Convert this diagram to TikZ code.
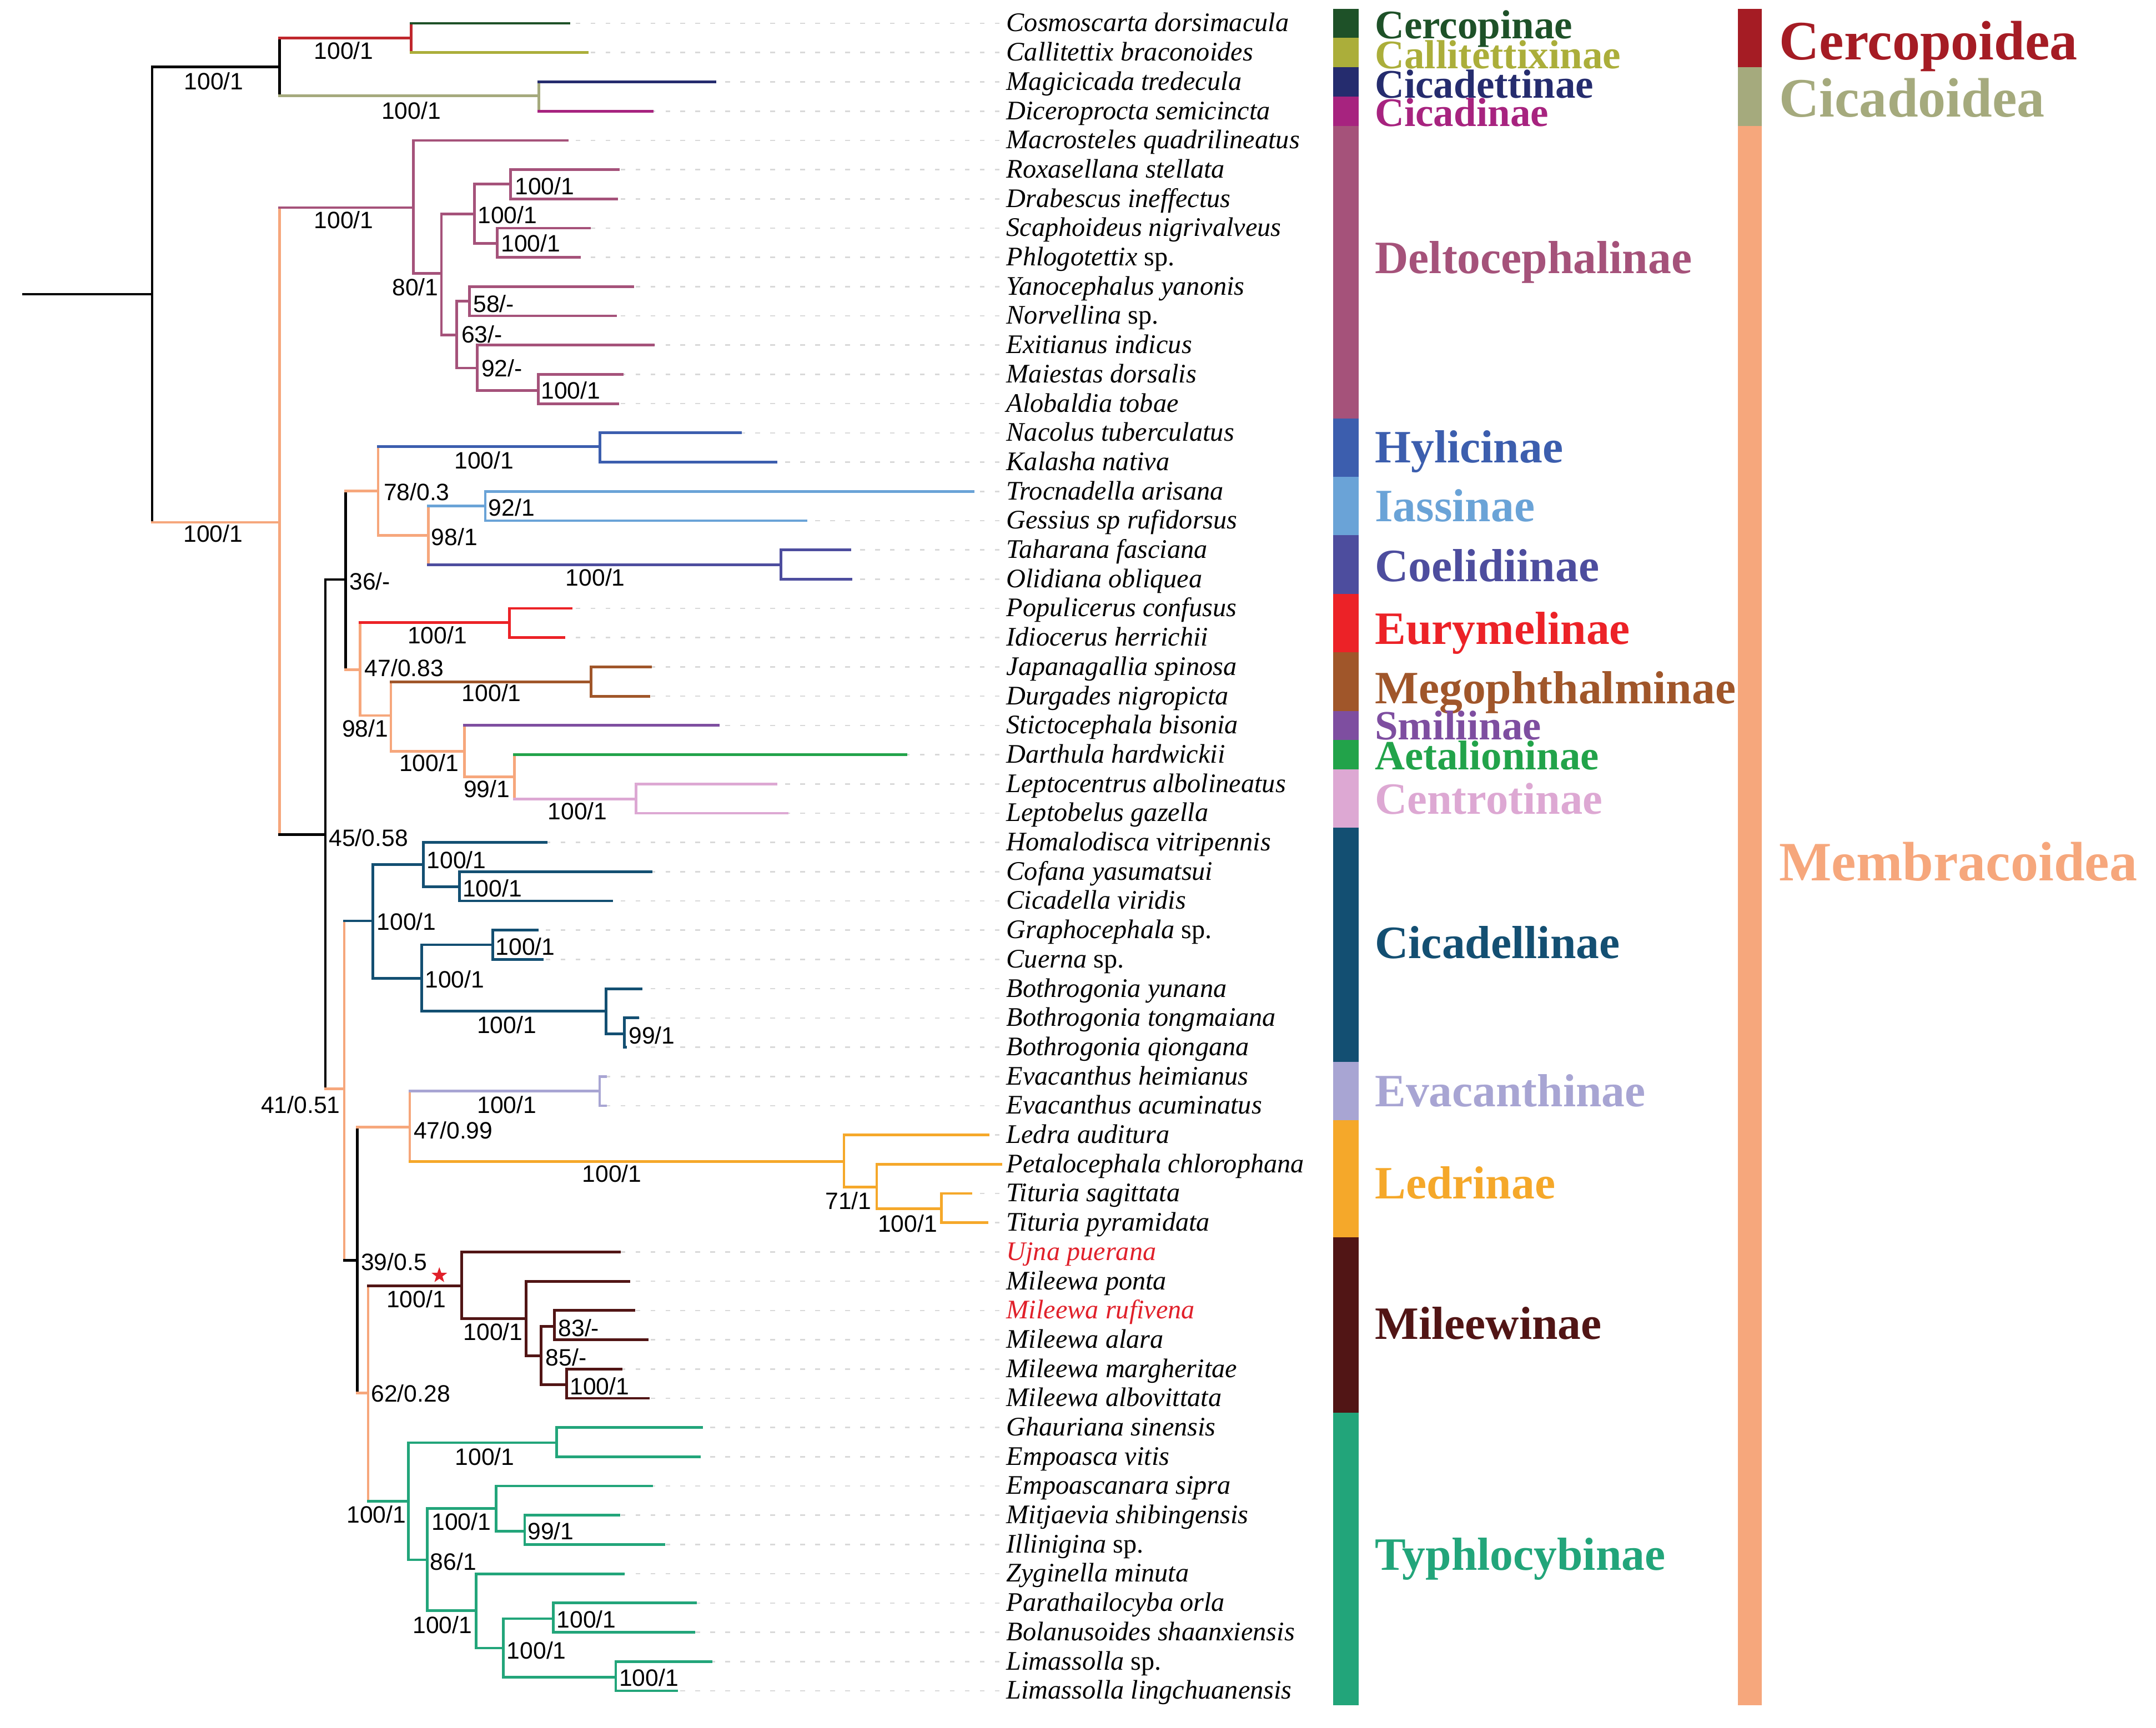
\documentclass[tikz,border=0pt]{standalone}
\usepackage{fontspec}
\setmainfont{Liberation Serif}
\newfontfamily\bsfont{Liberation Sans}
\usepackage{tikz}
\usetikzlibrary{shapes.geometric}

\definecolor{salmon}{HTML}{F6A77C}
\definecolor{cercopoidea}{HTML}{A51C24}
\definecolor{cercbranch}{HTML}{C0272D}
\definecolor{cicadoidea}{HTML}{A5AA7D}
\definecolor{cercopinae}{HTML}{1E5128}
\definecolor{callitettixinae}{HTML}{ABAE3A}
\definecolor{cicadettinae}{HTML}{252C6E}
\definecolor{cicadinae}{HTML}{A7237F}
\definecolor{deltocephalinae}{HTML}{A5527A}
\definecolor{hylicinae}{HTML}{3C5EAE}
\definecolor{iassinae}{HTML}{6AA3D7}
\definecolor{coelidiinae}{HTML}{4D4D9E}
\definecolor{eurymelinae}{HTML}{EC2227}
\definecolor{megophthalminae}{HTML}{A0562A}
\definecolor{smiliinae}{HTML}{7E4EA0}
\definecolor{aetalioninae}{HTML}{22A34A}
\definecolor{centrotinae}{HTML}{DDA8D3}
\definecolor{cicadellinae}{HTML}{134F72}
\definecolor{evacanthinae}{HTML}{A8A5D3}
\definecolor{ledrinae}{HTML}{F5A82A}
\definecolor{mileewinae}{HTML}{511515}
\definecolor{typhlocybinae}{HTML}{22A57A}
\definecolor{newsp}{HTML}{E0202A}

\begin{document}
\begin{tikzpicture}[
        x = 0.2mm, % one unit of the layout grid
        y = -0.2mm, % rows run downwards
        line width = 1.1pt, % branch line style
        line cap = rect
    ]

    \tikzstyle{species}=[
        anchor = base west,
        inner sep = 0pt,
        font = \itshape\fontsize{11.1}{13}\selectfont
    ]
    \tikzstyle{leader}=[
        draw = black!15,
        line width = 0.6pt,
        line cap = butt,
        dash pattern = on 1.9pt off 4.3pt,
        shorten <=0.8mm
    ]
    \tikzstyle{support}=[
        inner sep = 0pt,
        font = \bsfont\fontsize{9.8}{10}\selectfont
    ]
    \tikzstyle{grouplabel}=[
        anchor = base west,
        inner sep = 0pt
    ]
    \tikzstyle{superfamily}=[
        anchor = base west,
        inner sep = 0pt,
        font = \bfseries\fontsize{23}{23}\selectfont
    ]

    \useasboundingbox (0,0) rectangle (1568,1257);

    % tips and species names
    \foreach \i/\tx/\sp in {
        0/413.6/Cosmoscarta dorsimacula,
        1/427/Callitettix braconoides,
        2/520/Magicicada tredecula,
        3/474.4/Diceroprocta semicincta,
        4/412.6/Macrosteles quadrilineatus,
        5/449.5/Roxasellana stellata,
        6/448.5/Drabescus ineffectus,
        7/428.6/Scaphoideus nigrivalveus,
        8/421.3/Phlogotettix {\upshape sp.},
        9/460/Yanocephalus yanonis,
        10/447.8/Norvellina {\upshape sp.},
        11/475/Exitianus indicus,
        12/452.5/Maiestas dorsalis,
        13/449.2/Alobaldia tobae,
        14/538.6/Nacolus tuberculatus,
        15/564.4/Kalasha nativa,
        16/707.6/Trocnadella arisana,
        17/586.2/Gessius sp rufidorsus,
        18/618/Taharana fasciana,
        19/619/Olidiana obliquea,
        20/415.4/Populicerus confusus,
        21/410.2/Idiocerus herrichii,
        22/473/Japanagallia spinosa,
        23/472/Durgades nigropicta,
        24/522.3/Stictocephala bisonia,
        25/658.7/Darthula hardwickii,
        26/564.4/Leptocentrus albolineatus,
        27/572.4/Leptobelus gazella,
        28/397.1/Homalodisca vitripennis,
        29/473.7/Cofana yasumatsui,
        30/444.7/Cicadella viridis,
        31/390.9/Graphocephala {\upshape sp.},
        32/394.3/Cuerna {\upshape sp.},
        33/466.1/Bothrogonia yunana,
        34/463.7/Bothrogonia tongmaiana,
        35/455/Bothrogonia qiongana,
        36/440.2/Evacanthus heimianus,
        37/440.2/Evacanthus acuminatus,
        38/718.7/Ledra auditura,
        39/727.9/Petalocephala chlorophana,
        40/706.1/Tituria sagittata,
        41/717.9/Tituria pyramidata,
        42/450.6/{\color{newsp}Ujna puerana},
        43/457.5/Mileewa ponta,
        44/460.9/{\color{newsp}Mileewa rufivena},
        45/470.6/Mileewa alara,
        46/451.6/Mileewa margheritae,
        47/471.3/Mileewa albovittata,
        48/510.3/Ghauriana sinensis,
        49/508.6/Empoasca vitis,
        50/474/Empoascanara sipra,
        51/449.9/Mitjaevia shibingensis,
        52/482.7/Illinigina {\upshape sp.},
        53/453.3/Zyginella minuta,
        54/505.8/Parathailocyba orla,
        55/504.8/Bolanusoides shaanxiensis,
        56/517.2/Limassolla {\upshape sp.},
        57/492/Limassolla lingchuanensis}{
        \coordinate (t\i) at (\tx,{17+21.28*\i});
        \node[species] (s\i) at (731,{23+21.28*\i}) {\sp};
        \ifdim\tx pt<720pt \draw[leader] (t\i -| s\i.west) -- (t\i); \fi
    }

    % inner nodes
    \coordinate (base) at (17,214);
    \coordinate (nroot) at (110.6,214);
    \coordinate (ncc) at (203.3,48.6);
    \coordinate (ncerc) at (299,27.8);
    \coordinate (ncica) at (392,69.8);
    \coordinate (nmemb) at (203.3,380);
    \coordinate (ndelt) at (300.7,151);
    \coordinate (n80) at (321,199);
    \coordinate (n345) at (344.9,155.7);
    \coordinate (n372) at (371.4,133.9);
    \coordinate (n361) at (361.5,177.1);
    \coordinate (n63) at (332.2,243.6);
    \coordinate (n58) at (341.5,219.2);
    \coordinate (n92) at (347.2,267.7);
    \coordinate (n391) at (391.4,284);
    \coordinate (n45) at (236.6,607);
    \coordinate (n36) at (251.5,421.6);
    \coordinate (n78) at (275,357.2);
    \coordinate (nhyl) at (436.4,325);
    \coordinate (n98a) at (311.5,389.5);
    \coordinate (nias) at (352.9,368);
    \coordinate (ncoel) at (567.9,411);
    \coordinate (n47a) at (261.8,487.2);
    \coordinate (neury) at (370.5,453);
    \coordinate (n98b) at (284.3,520.5);
    \coordinate (nmego) at (429.9,496);
    \coordinate (n100c) at (337.7,546.5);
    \coordinate (n99) at (374,565);
    \coordinate (ncent) at (462.7,581.4);
    \coordinate (n41) at (250.4,792.2);
    \coordinate (ncicl) at (271.1,669.9);
    \coordinate (nc1) at (308,628.8);
    \coordinate (nc11) at (334.3,645.2);
    \coordinate (nc2) at (306.7,711.7);
    \coordinate (nc21) at (358.4,687.3);
    \coordinate (nc22) at (440.9,735.4);
    \coordinate (nc221) at (454,752.2);
    \coordinate (n39) at (259.8,916.7);
    \coordinate (n47b) at (298,819.8);
    \coordinate (nevac) at (436.1,793.8);
    \coordinate (nledr) at (613.8,845);
    \coordinate (n71) at (637.6,863.4);
    \coordinate (nl2) at (684.5,879.2);
    \coordinate (n62) at (267.7,1013.5);
    \coordinate (nmile) at (335.7,935.3);
    \coordinate (nm1) at (382.6,959.2);
    \coordinate (n85) at (393.6,986.2);
    \coordinate (n83) at (403.3,964.9);
    \coordinate (nm2) at (412.1,1007.4);
    \coordinate (ntyph) at (297,1092.2);
    \coordinate (nt1) at (404.7,1049.5);
    \coordinate (n86) at (310.8,1134.7);
    \coordinate (nt2) at (360.9,1097.2);
    \coordinate (n99b) at (381.6,1113.8);
    \coordinate (nt3) at (346.4,1171.8);
    \coordinate (nt4) at (366,1198.9);
    \coordinate (nt5) at (402.3,1177.5);
    \coordinate (nt6) at (447.8,1220);

    % branches: node/colour/upper child/colour/lower child/colour
    \draw (base) -- (nroot);
    \foreach \nd/\cn/\up/\cup/\dn/\cdn in {
        nroot/black/ncc/black/nmemb/salmon,
        ncc/black/ncerc/cercbranch/ncica/cicadoidea,
        ncerc/cercbranch/t0/cercopinae/t1/callitettixinae,
        ncica/cicadoidea/t2/cicadettinae/t3/cicadinae,
        nmemb/salmon/ndelt/deltocephalinae/n45/black,
        ndelt/deltocephalinae/t4/deltocephalinae/n80/deltocephalinae,
        n80/deltocephalinae/n345/deltocephalinae/n63/deltocephalinae,
        n345/deltocephalinae/n372/deltocephalinae/n361/deltocephalinae,
        n372/deltocephalinae/t5/deltocephalinae/t6/deltocephalinae,
        n361/deltocephalinae/t7/deltocephalinae/t8/deltocephalinae,
        n63/deltocephalinae/n58/deltocephalinae/n92/deltocephalinae,
        n58/deltocephalinae/t9/deltocephalinae/t10/deltocephalinae,
        n92/deltocephalinae/t11/deltocephalinae/n391/deltocephalinae,
        n391/deltocephalinae/t12/deltocephalinae/t13/deltocephalinae,
        n45/black/n36/black/n41/salmon,
        n36/black/n78/salmon/n47a/salmon,
        n78/salmon/nhyl/hylicinae/n98a/salmon,
        nhyl/hylicinae/t14/hylicinae/t15/hylicinae,
        n98a/salmon/nias/iassinae/ncoel/coelidiinae,
        nias/iassinae/t16/iassinae/t17/iassinae,
        ncoel/coelidiinae/t18/coelidiinae/t19/coelidiinae,
        n47a/salmon/neury/eurymelinae/n98b/salmon,
        neury/eurymelinae/t20/eurymelinae/t21/eurymelinae,
        n98b/salmon/nmego/megophthalminae/n100c/salmon,
        nmego/megophthalminae/t22/megophthalminae/t23/megophthalminae,
        n100c/salmon/t24/smiliinae/n99/salmon,
        n99/salmon/t25/aetalioninae/ncent/centrotinae,
        ncent/centrotinae/t26/centrotinae/t27/centrotinae,
        n41/salmon/ncicl/cicadellinae/n39/black,
        ncicl/cicadellinae/nc1/cicadellinae/nc2/cicadellinae,
        nc1/cicadellinae/t28/cicadellinae/nc11/cicadellinae,
        nc11/cicadellinae/t29/cicadellinae/t30/cicadellinae,
        nc2/cicadellinae/nc21/cicadellinae/nc22/cicadellinae,
        nc21/cicadellinae/t31/cicadellinae/t32/cicadellinae,
        nc22/cicadellinae/t33/cicadellinae/nc221/cicadellinae,
        nc221/cicadellinae/t34/cicadellinae/t35/cicadellinae,
        n39/black/n47b/salmon/n62/salmon,
        n47b/salmon/nevac/evacanthinae/nledr/ledrinae,
        nevac/evacanthinae/t36/evacanthinae/t37/evacanthinae,
        nledr/ledrinae/t38/ledrinae/n71/ledrinae,
        n71/ledrinae/t39/ledrinae/nl2/ledrinae,
        nl2/ledrinae/t40/ledrinae/t41/ledrinae,
        n62/salmon/nmile/mileewinae/ntyph/typhlocybinae,
        nmile/mileewinae/t42/mileewinae/nm1/mileewinae,
        nm1/mileewinae/t43/mileewinae/n85/mileewinae,
        n85/mileewinae/n83/mileewinae/nm2/mileewinae,
        n83/mileewinae/t44/mileewinae/t45/mileewinae,
        nm2/mileewinae/t46/mileewinae/t47/mileewinae,
        ntyph/typhlocybinae/nt1/typhlocybinae/n86/typhlocybinae,
        nt1/typhlocybinae/t48/typhlocybinae/t49/typhlocybinae,
        n86/typhlocybinae/nt2/typhlocybinae/nt3/typhlocybinae,
        nt2/typhlocybinae/t50/typhlocybinae/n99b/typhlocybinae,
        n99b/typhlocybinae/t51/typhlocybinae/t52/typhlocybinae,
        nt3/typhlocybinae/t53/typhlocybinae/nt4/typhlocybinae,
        nt4/typhlocybinae/nt5/typhlocybinae/nt6/typhlocybinae,
        nt5/typhlocybinae/t54/typhlocybinae/t55/typhlocybinae,
        nt6/typhlocybinae/t56/typhlocybinae/t57/typhlocybinae}{
        \draw[\cn] (\nd |- \up) -- (\nd |- \dn);
        \draw[\cup] (\nd |- \up) -- (\up);
        \draw[\cdn] (\nd |- \dn) -- (\dn);
    }

    % support values
    \foreach \lx/\ly/\lt [count=\k] in {
        155.5/58.9/{100/1}, 250/36.7/{100/1}, 299/80.3/{100/1},
        155/388/{100/1}, 250/160/{100/1}, 302/209/{80/1},
        396/135.5/{100/1}, 369/156.5/{100/1}, 386/177/{100/1},
        359/221/{58/-}, 350.5/243/{63/-}, 365/268/{92/-},
        415/284/{100/1}, 268/609.5/{45/0.58}, 269/423/{36/-},
        303/358/{78/0.3}, 352/335/{100/1}, 330.5/390.5/{98/1},
        372/369/{92/1}, 433/420/{100/1}, 294/486/{47/0.83},
        318/462/{100/1}, 265.6/530/{98/1}, 357.5/504/{100/1},
        312/555/{100/1}, 354/574/{99/1}, 420/590/{100/1},
        218.6/803.5/{41/0.51}, 295.6/670.4/{100/1}, 332/625.5/{100/1},
        358/646/{100/1}, 330.6/712.3/{100/1}, 382/688.7/{100/1},
        368.5/745.5/{100/1}, 474/753/{99/1}, 286.5/918/{39/0.5},
        329.6/822.4/{47/0.99}, 368.6/803.5/{100/1}, 445/853.6/{100/1},
        617/873.5/{71/1}, 660/890/{100/1}, 298.7/1013.7/{62/0.28},
        302.7/945/{100/1}, 358.6/968.7/{100/1}, 411.7/987.5/{85/-},
        420.9/966/{83/-}, 436/1008.5/{100/1}, 273.7/1101.7/{100/1},
        352.5/1059.5/{100/1}, 329.7/1136/{86/1}, 335.5/1107/{100/1},
        400.5/1113.7/{99/1}, 321.7/1182/{100/1}, 390.2/1200.7/{100/1},
        426.5/1178/{100/1}, 471.8/1220.6/{100/1}}
        \node[support] (bs\k) at (\lx,\ly) {\lt};

    % new species mark
    \node[star, star points=5, star point ratio=2.5, fill=newsp,
        inner sep=0pt, minimum size=2.4mm] (mark) at (319.5,927.8) {};

    % subfamily bars
    \foreach \ra/\rb/\col/\lab/\bl/\fs in {
        0/0/cercopinae/Cercopinae/28.2/16.8,
        1/1/callitettixinae/Callitettixinae/49.8/16.8,
        2/2/cicadettinae/Cicadettinae/71.3/16.8,
        3/3/cicadinae/Cicadinae/92/16.8,
        4/13/deltocephalinae/Deltocephalinae/199/19.2,
        14/15/hylicinae/Hylicinae/336.6/19.2,
        16/17/iassinae/Iassinae/379.4/19.2,
        18/19/coelidiinae/Coelidiinae/423/19.2,
        20/21/eurymelinae/Eurymelinae/468.5/19.2,
        22/23/megophthalminae/Megophthalminae/512/19.2,
        24/24/smiliinae/Smiliinae/538/17.2,
        25/25/aetalioninae/Aetalioninae/560/17.2,
        26/27/centrotinae/Centrotinae/592/18.5,
        28/35/cicadellinae/Cicadellinae/697/19.2,
        36/37/evacanthinae/Evacanthinae/805/19.2,
        38/41/ledrinae/Ledrinae/872/19.2,
        42/47/mileewinae/Mileewinae/974/19.2,
        48/57/typhlocybinae/Typhlocybinae/1142/19.2}{
        \fill[\col] (969.5,{6.36+21.28*\ra}) rectangle (988.1,{27.64+21.28*\rb});
        \node[grouplabel, text=\col, font=\bfseries\fontsize{\fs}{\fs}\selectfont]
            (g\ra) at (999,\bl) {\lab};
    }

    % superfamily bars
    \foreach \ra/\rb/\col/\lab/\bl in {
        0/1/cercopoidea/Cercopoidea/43.5,
        2/3/cicadoidea/Cicadoidea/85,
        4/57/salmon/Membracoidea/640.5}{
        \fill[\col] (1263.9,{6.36+21.28*\ra}) rectangle (1281.3,{27.64+21.28*\rb});
        \node[superfamily, text=\col] (f\ra) at (1293,\bl) {\lab};
    }
\end{tikzpicture}
\end{document}
